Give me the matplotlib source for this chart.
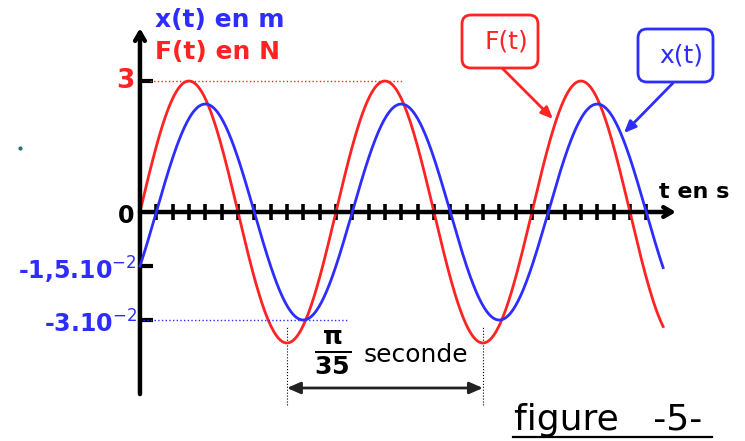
import numpy as np
import matplotlib.pyplot as plt
from matplotlib.transforms import Affine2D
from matplotlib.patches import FancyBboxPatch
from matplotlib.lines import Line2D

# values
F_max = 3.0            # N
x_max = 3e-2           # m
period = np.pi / 35    # s
lag = np.pi / 6        # x(t) lags behind F(t)
t_end = 0.2396         # s, where both curves stop
n_ticks = 31           # small marks on the time axis, one every period/12

x_tick_vals = [-1.5e-2, -3e-2]
x_tick_texts = [r'-1,5.10$^{-2}$', r'-3.10$^{-2}$']

RED = '#ff2323'
BLUE = '#2d2dff'
FONT = 'DejaVu Sans'

W, H, DPI = 7.45, 4.41, 100
fig = plt.figure(figsize=(W, H), dpi=DPI)
# pixel coordinates (origin top-left) for the free-standing labels
px = Affine2D().scale(1 / DPI, -1 / DPI).translate(0, H) + fig.dpi_scale_trans

ax = fig.add_axes([0, 0, 1, 1])
ax.set_xlim(-0.0641, 0.2771)
ax.set_ylim(-5.244, 4.855)
ax.axis('off')
ax2 = ax.twinx()
ax2.set_ylim(-0.0636, 0.0589)
ax2.axis('off')

omega = 2 * np.pi / period
t = np.linspace(0, t_end, 600)
ax.plot(t, F_max * np.sin(omega * t), color=RED, lw=2, zorder=3)
ax2.plot(t, x_max * np.sin(omega * t - lag), color=BLUE, lw=2, zorder=3)

# axes drawn by hand, with arrows
ax.annotate('', xy=(0, 4.21), xytext=(0, -4.17),
            arrowprops=dict(arrowstyle='->,head_length=0.6,head_width=0.35',
                            lw=3.2, color='black', shrinkA=0, shrinkB=0))
ax.annotate('', xy=(0.2455, 0), xytext=(0, 0),
            arrowprops=dict(arrowstyle='->,head_length=0.6,head_width=0.35',
                            lw=3.2, color='black', shrinkA=0, shrinkB=0))
ticks = period / 12 * np.arange(1, n_ticks + 1)
ax.vlines(ticks, -0.19, 0.19, color='black', lw=2.6)

# vertical scale marks
ax.hlines(F_max, 0, 0.006, color='black', lw=3)
ax2.hlines(x_tick_vals, 0, 0.006, color='black', lw=3)
ax.hlines(F_max, 0.0046, 0.12, color=RED, lw=1, linestyles=':')
ax2.hlines(-x_max, 0.0014, 0.0953, color=BLUE, lw=1, linestyles=':')

ax.text(-0.0025, F_max, '3', color=RED, fontsize=19, family=FONT,
        weight='bold', ha='right', va='center')
ax.text(-0.0025, -0.08, '0', color='black', fontsize=17, family=FONT,
        weight='bold', ha='right', va='center')
for v, s in zip(x_tick_vals, x_tick_texts):
    ax2.text(-0.0015, v - 0.0012, s, color=BLUE, fontsize=17, family=FONT,
             weight='bold', ha='right', va='center')

fig.text(155, 20, 'x(t) en m', transform=px, color=BLUE, fontsize=18,
         family=FONT, weight='bold', va='center')
fig.text(155, 52, 'F(t) en N', transform=px, color=RED, fontsize=18,
         family=FONT, weight='bold', va='center')
fig.text(659, 192, 't en s', transform=px, color='black', fontsize=16,
         family=FONT, weight='bold', va='center')

# period annotation
troughs = np.array([0.75, 1.75]) * period
ax.vlines(troughs, -4.42, -2.61, color='black', lw=0.8, linestyles=':')
ax.annotate('', xy=(troughs[0], -4.03), xytext=(troughs[1], -4.03),
            arrowprops=dict(arrowstyle='<|-|>,head_length=0.8,head_width=0.35',
                            lw=2, color='#222222', shrinkA=0, shrinkB=0))
fig.text(333, 352, r'$\mathbf{\frac{\pi}{35}}$', transform=px, fontsize=26,
         ha='center', va='center')
fig.text(364, 355, 'seconde', transform=px, fontsize=18, family=FONT,
         va='center')

# labelled boxes with arrows
for (x0, y0, w, h, label, col, start, end) in [
        (462, 15, 76, 53, 'F(t)', RED, (502, 68), (553, 119)),
        (638, 29, 75, 53, 'x(t)', BLUE, (673, 83), (624, 133))]:
    box = FancyBboxPatch((x0, y0), w, h, transform=px,
                         boxstyle='round,pad=0,rounding_size=9',
                         fc='white', ec=col, lw=2)
    fig.add_artist(box)
    fig.text(x0 + w / 2 + 6, y0 + h / 2, label, transform=px, color=col,
             fontsize=18, family=FONT, ha='center', va='center')
    ax.annotate('', xy=end, xytext=start, xycoords=px, textcoords=px,
                arrowprops=dict(arrowstyle='-|>,head_length=0.7,head_width=0.3',
                                lw=2, color=col, shrinkA=0, shrinkB=0))

fig.text(514, 420, 'figure   -5-', transform=px, fontsize=26, family=FONT,
         va='center')
fig.add_artist(Line2D([513, 712], [437, 437], transform=px, color='black',
                      lw=1.6))
fig.add_artist(Line2D([20], [148], transform=px, color='#2a6f7f',
                      marker='o', ms=2, lw=0))

fig.savefig('out.png', dpi=DPI)
